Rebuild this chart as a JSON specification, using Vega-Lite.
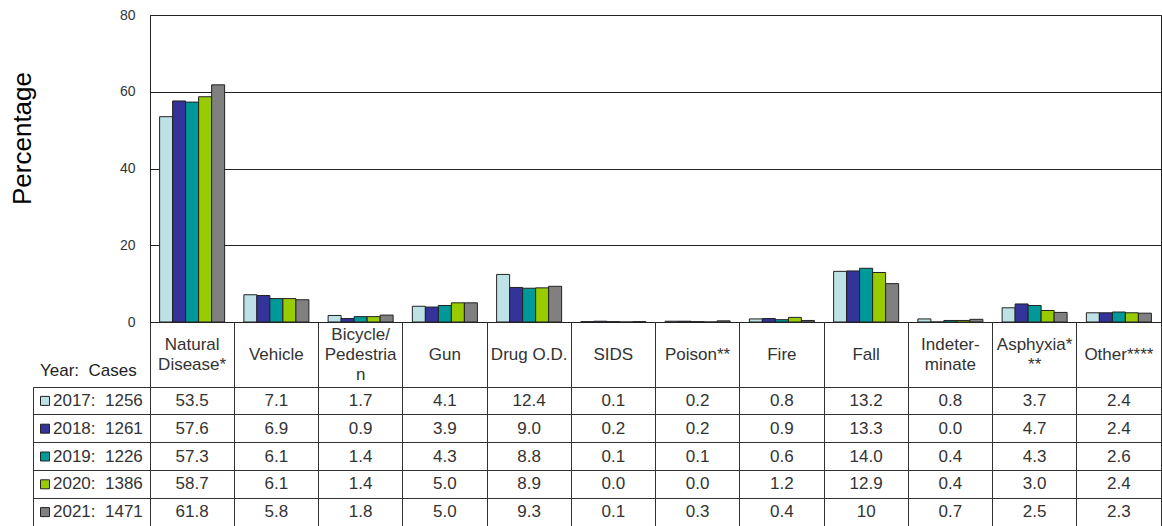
{
  "$schema": "https://vega.github.io/schema/vega-lite/v6.json",
  "padding": {"left": 8, "top": 7, "right": 0, "bottom": 0},
  "autosize": {"type": "pad"},
  "config": {
    "font": "Liberation Sans",
    "view": {"stroke": "#333333"}
  },
  "datasets": {
    "main": [
      {"c": "Natural|Disease*", "y": "2017", "v": 53.5, "t": "53.5"},
      {"c": "Natural|Disease*", "y": "2018", "v": 57.6, "t": "57.6"},
      {"c": "Natural|Disease*", "y": "2019", "v": 57.3, "t": "57.3"},
      {"c": "Natural|Disease*", "y": "2020", "v": 58.7, "t": "58.7"},
      {"c": "Natural|Disease*", "y": "2021", "v": 61.8, "t": "61.8"},
      {"c": "Vehicle", "y": "2017", "v": 7.1, "t": "7.1"},
      {"c": "Vehicle", "y": "2018", "v": 6.9, "t": "6.9"},
      {"c": "Vehicle", "y": "2019", "v": 6.1, "t": "6.1"},
      {"c": "Vehicle", "y": "2020", "v": 6.1, "t": "6.1"},
      {"c": "Vehicle", "y": "2021", "v": 5.8, "t": "5.8"},
      {"c": "Bicycle/|Pedestria|n", "y": "2017", "v": 1.7, "t": "1.7"},
      {"c": "Bicycle/|Pedestria|n", "y": "2018", "v": 0.9, "t": "0.9"},
      {"c": "Bicycle/|Pedestria|n", "y": "2019", "v": 1.4, "t": "1.4"},
      {"c": "Bicycle/|Pedestria|n", "y": "2020", "v": 1.4, "t": "1.4"},
      {"c": "Bicycle/|Pedestria|n", "y": "2021", "v": 1.8, "t": "1.8"},
      {"c": "Gun", "y": "2017", "v": 4.1, "t": "4.1"},
      {"c": "Gun", "y": "2018", "v": 3.9, "t": "3.9"},
      {"c": "Gun", "y": "2019", "v": 4.3, "t": "4.3"},
      {"c": "Gun", "y": "2020", "v": 5.0, "t": "5.0"},
      {"c": "Gun", "y": "2021", "v": 5.0, "t": "5.0"},
      {"c": "Drug O.D.", "y": "2017", "v": 12.4, "t": "12.4"},
      {"c": "Drug O.D.", "y": "2018", "v": 9.0, "t": "9.0"},
      {"c": "Drug O.D.", "y": "2019", "v": 8.8, "t": "8.8"},
      {"c": "Drug O.D.", "y": "2020", "v": 8.9, "t": "8.9"},
      {"c": "Drug O.D.", "y": "2021", "v": 9.3, "t": "9.3"},
      {"c": "SIDS", "y": "2017", "v": 0.1, "t": "0.1"},
      {"c": "SIDS", "y": "2018", "v": 0.2, "t": "0.2"},
      {"c": "SIDS", "y": "2019", "v": 0.1, "t": "0.1"},
      {"c": "SIDS", "y": "2020", "v": 0.0, "t": "0.0"},
      {"c": "SIDS", "y": "2021", "v": 0.1, "t": "0.1"},
      {"c": "Poison**", "y": "2017", "v": 0.2, "t": "0.2"},
      {"c": "Poison**", "y": "2018", "v": 0.2, "t": "0.2"},
      {"c": "Poison**", "y": "2019", "v": 0.1, "t": "0.1"},
      {"c": "Poison**", "y": "2020", "v": 0.0, "t": "0.0"},
      {"c": "Poison**", "y": "2021", "v": 0.3, "t": "0.3"},
      {"c": "Fire", "y": "2017", "v": 0.8, "t": "0.8"},
      {"c": "Fire", "y": "2018", "v": 0.9, "t": "0.9"},
      {"c": "Fire", "y": "2019", "v": 0.6, "t": "0.6"},
      {"c": "Fire", "y": "2020", "v": 1.2, "t": "1.2"},
      {"c": "Fire", "y": "2021", "v": 0.4, "t": "0.4"},
      {"c": "Fall", "y": "2017", "v": 13.2, "t": "13.2"},
      {"c": "Fall", "y": "2018", "v": 13.3, "t": "13.3"},
      {"c": "Fall", "y": "2019", "v": 14.0, "t": "14.0"},
      {"c": "Fall", "y": "2020", "v": 12.9, "t": "12.9"},
      {"c": "Fall", "y": "2021", "v": 10, "t": "10"},
      {"c": "Indeter-|minate", "y": "2017", "v": 0.8, "t": "0.8"},
      {"c": "Indeter-|minate", "y": "2018", "v": 0.0, "t": "0.0"},
      {"c": "Indeter-|minate", "y": "2019", "v": 0.4, "t": "0.4"},
      {"c": "Indeter-|minate", "y": "2020", "v": 0.4, "t": "0.4"},
      {"c": "Indeter-|minate", "y": "2021", "v": 0.7, "t": "0.7"},
      {"c": "Asphyxia*|**", "y": "2017", "v": 3.7, "t": "3.7"},
      {"c": "Asphyxia*|**", "y": "2018", "v": 4.7, "t": "4.7"},
      {"c": "Asphyxia*|**", "y": "2019", "v": 4.3, "t": "4.3"},
      {"c": "Asphyxia*|**", "y": "2020", "v": 3.0, "t": "3.0"},
      {"c": "Asphyxia*|**", "y": "2021", "v": 2.5, "t": "2.5"},
      {"c": "Other****", "y": "2017", "v": 2.4, "t": "2.4"},
      {"c": "Other****", "y": "2018", "v": 2.4, "t": "2.4"},
      {"c": "Other****", "y": "2019", "v": 2.6, "t": "2.6"},
      {"c": "Other****", "y": "2020", "v": 2.4, "t": "2.4"},
      {"c": "Other****", "y": "2021", "v": 2.3, "t": "2.3"}
    ],
    "years": [
      {"y": "2017", "label": "2017: \u00a01256"},
      {"y": "2018", "label": "2018: \u00a01261"},
      {"y": "2019", "label": "2019: \u00a01226"},
      {"y": "2020", "label": "2020: \u00a01386"},
      {"y": "2021", "label": "2021: \u00a01471"}
    ]
  },
  "columns": 2,
  "bounds": "flush",
  "spacing": {"row": 65, "column": 0},
  "concat": [
    {
      "width": 117,
      "height": 307,
      "view": {"stroke": null},
      "data": {"values": [{"a": 1}]},
      "mark": {"type": "point", "opacity": 0},
      "encoding": {}
    },
    {
      "width": 1011,
      "height": 307,
      "view": {"stroke": "#222222"},
      "data": {"name": "main"},
      "mark": {"type": "bar", "stroke": "#222222", "strokeWidth": 1},
      "encoding": {
        "x": {
          "field": "c",
          "type": "nominal",
          "sort": ["Natural|Disease*", "Vehicle", "Bicycle/|Pedestria|n", "Gun", "Drug O.D.", "SIDS", "Poison**", "Fire", "Fall", "Indeter-|minate", "Asphyxia*|**", "Other****"],
          "scale": {"paddingInner": 0, "paddingOuter": 0},
          "axis": {
            "title": null,
            "domain": true,
            "domainColor": "#222222",
            "ticks": true,
            "tickSize": 65,
            "tickColor": "#333333",
            "bandPosition": 1,
            "tickExtra": true,
            "labelAngle": 0,
            "labelExpr": "length(split(datum.label,'|')) == 1 ? ['\u200b', '\u200b', datum.label] : length(split(datum.label,'|')) == 2 ? ['\u200b', split(datum.label,'|')[0], '\u200b', split(datum.label,'|')[1]] : [split(datum.label,'|')[0], '\u200b', split(datum.label,'|')[1], '\u200b', split(datum.label,'|')[2]]",
            "labelBaseline": "middle",
            "labelAlign": "center",
            "labelPadding": -53,
            "labelFontSize": 17,
            "labelLineHeight": 10,
            "labelColor": "#333333",
            "labelOverlap": false,
            "labelBound": false,
            "labelFlush": false,
            "grid": false
          }
        },
        "xOffset": {
          "field": "y",
          "type": "nominal",
          "scale": {"paddingInner": 0, "paddingOuter": 0.74}
        },
        "y": {
          "field": "v",
          "type": "quantitative",
          "scale": {"domain": [0, 80], "nice": false},
          "axis": {
            "values": [0, 20, 40, 60, 80],
            "title": "Percentage",
            "titleFontSize": 26,
            "titleFontWeight": "normal",
            "titleColor": "#000000",
            "titleAngle": -90,
            "titleAlign": "center",
            "titleBaseline": "middle",
            "titleX": -128,
            "titleY": 123,
            "grid": true,
            "gridColor": "#222222",
            "gridOpacity": 1,
            "domain": true,
            "domainColor": "#222222",
            "ticks": false,
            "labelPadding": 15,
            "labelFontSize": 14,
            "labelColor": "#333333"
          }
        },
        "color": {
          "field": "y",
          "type": "nominal",
          "scale": {"domain": ["2017", "2018", "2019", "2020", "2021"], "range": ["#BCE2E6", "#333399", "#009999", "#99CC00", "#808080"]},
          "legend": null
        }
      }
    },
    {
      "width": 117,
      "height": 139,
      "view": {"stroke": "#333333"},
      "data": {"name": "years"},
      "title": {"text": "Year: \u00a0Cases", "anchor": "start", "fontSize": 17, "fontWeight": "normal", "color": "#222222", "dx": 7, "dy": 16, "offset": 10, "baseline": "alphabetic"},
      "encoding": {
        "y": {
          "field": "y",
          "type": "nominal",
          "sort": ["2017", "2018", "2019", "2020", "2021"],
          "scale": {"type": "band", "paddingInner": 0, "paddingOuter": 0},
          "axis": {"grid": true, "bandPosition": 0, "gridColor": "#333333", "gridOpacity": 1, "labels": false, "ticks": false, "domain": false, "title": null}
        }
      },
      "layer": [
        {
          "mark": {"type": "square", "size": 81, "stroke": "#222222", "strokeWidth": 1, "opacity": 1, "filled": true},
          "encoding": {
            "x": {"datum": "s", "type": "nominal", "bandPosition": 0.6, "scale": {"type": "band", "domain": ["s", "t", "u", "v"], "paddingInner": 0, "paddingOuter": 0.925, "align": 0}, "axis": null},
            "fill": {
              "field": "y",
              "type": "nominal",
              "scale": {"domain": ["2017", "2018", "2019", "2020", "2021"], "range": ["#BCE2E6", "#333399", "#009999", "#99CC00", "#808080"]},
              "legend": null
            }
          }
        },
        {
          "mark": {"type": "text", "align": "left", "baseline": "middle", "fontSize": 17, "color": "#333333"},
          "encoding": {
            "x": {"datum": "t", "type": "nominal", "bandPosition": 0, "axis": null},
            "text": {"field": "label"}
          }
        }
      ]
    },
    {
      "width": 1011,
      "height": 139,
      "view": {"stroke": "#333333"},
      "data": {"name": "main"},
      "mark": {"type": "text", "fontSize": 17, "color": "#333333", "baseline": "middle"},
      "encoding": {
        "x": {
          "field": "c",
          "type": "nominal",
          "sort": ["Natural|Disease*", "Vehicle", "Bicycle/|Pedestria|n", "Gun", "Drug O.D.", "SIDS", "Poison**", "Fire", "Fall", "Indeter-|minate", "Asphyxia*|**", "Other****"],
          "scale": {"type": "band", "paddingInner": 0, "paddingOuter": 0},
          "axis": {"grid": true, "bandPosition": 0, "gridColor": "#333333", "gridOpacity": 1, "labels": false, "ticks": false, "domain": false, "title": null}
        },
        "y": {
          "field": "y",
          "type": "nominal",
          "sort": ["2017", "2018", "2019", "2020", "2021"],
          "scale": {"type": "band", "paddingInner": 0, "paddingOuter": 0},
          "axis": {"grid": true, "bandPosition": 0, "gridColor": "#333333", "gridOpacity": 1, "labels": false, "ticks": false, "domain": false, "title": null}
        },
        "text": {"field": "t"}
      }
    }
  ]
}
